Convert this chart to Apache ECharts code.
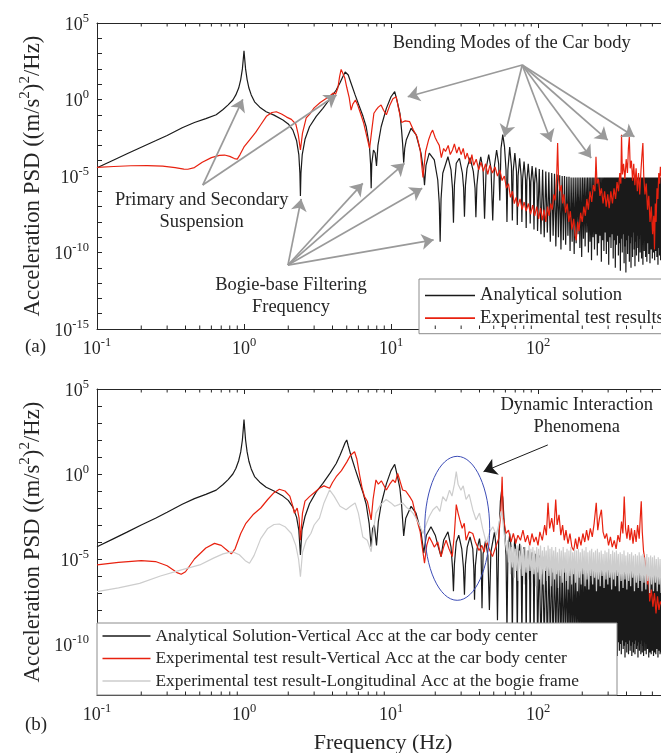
<!DOCTYPE html>
<html><head><meta charset="utf-8">
<script src="https://cdn.jsdelivr.net/npm/echarts@6/dist/echarts.min.js"></script>
<style>html,body{margin:0;padding:0;background:#fff}#c{width:661px;height:753px}</style>
</head><body><div id="c"></div><script>
// ---------- DATA (frequency in Hz, PSD given as log10 of (m/s^2)^2/Hz) ----------
const aAnalytical = [[0.1,-4.46],[0.13,-3.95],[0.16,-3.55],[0.2,-3.12],[0.25,-2.7],[0.3,-2.35],[0.38,-1.85],[0.46,-1.5],[0.55,-1.25],[0.647,-1.0],[0.72,-0.65],[0.78,-0.35],[0.84,-0.03],[0.88,0.3],[0.92,0.75],[0.95,1.3],[0.975,2.0],[0.99,2.7],[1.0,3.19],[1.01,2.7],[1.025,2.0],[1.05,1.3],[1.08,0.75],[1.12,0.3],[1.18,-0.15],[1.28,-0.5],[1.415,-0.8],[1.6,-1.02],[1.84,-1.34],[2.0,-1.6],[2.15,-2.0],[2.28,-2.7],[2.36,-3.6],[2.4,-4.8],[2.42,-6.3],[2.44,-4.8],[2.49,-3.6],[2.6,-2.6],[2.79,-1.78],[3.1,-1.1],[3.44,-0.58],[3.85,0.05],[4.24,0.62],[4.5,1.1],[4.7,1.49],[4.88,1.8],[5.0,1.88],[5.12,1.6],[5.35,1.06],[5.7,0.3],[6.1,-0.47],[6.45,-1.1],[6.78,-1.78],[7.14,-3.08],[7.26,-4.2],[7.33,-5.8],[7.4,-4.2],[7.6,-3.3],[7.8,-3.5],[7.97,-4.35],[8.15,-3.0],[8.57,-1.78],[9.3,-0.58],[10.0,0.18],[10.6,0.51],[11.1,-0.25],[11.5,-0.9],[11.8,-2.0],[12.0,-2.9],[12.2,-4.13],[12.4,-3.2],[12.7,-2.65],[13.7,-1.88],[14.8,-2.3],[16.0,-3.5],[16.6,-4.6],[16.9,-5.6],[17.3,-4.3],[18.2,-3.5],[19.7,-3.95],[20.8,-5.26],[21.3,-6.8],[21.6,-9.3],[21.9,-6.5],[22.5,-4.82],[24.4,-3.74],[25.6,-4.6],[26.2,-5.8],[26.6,-8.05],[27.0,-5.6],[27.8,-4.17],[29.2,-3.84],[30.6,-4.82],[31.2,-5.8],[31.6,-7.66],[32.1,-5.6],[32.9,-4.5],[34.5,-3.8],[36.3,-4.7],[37.3,-5.8],[37.8,-7.7],[38.4,-5.6],[39.4,-4.5],[40.8,-3.75],[42.3,-4.6],[43.3,-7.8],[44.4,-4.5],[46.2,-3.6],[47.9,-4.5],[49.2,-7.9],[50.6,-4.3],[52.3,-3.3],[54.0,-4.2],[55.0,-6.6],[56.0,-3.2],[57.6,-2.3],[59.2,-3.1],[60.6,-4.6],[61.5,-8.0],[62.4,-4.6],[64.2,-3.1],[66.0,-4.4],[66.9,-7.9],[67.8,-4.7],[69.6,-3.5],[71.4,-4.7],[72.3,-8.2],[73.2,-5.0],[75.0,-3.85],[76.8,-5.0],[77.7,-8.0],[78.6,-5.2],[80.4,-4.05],[82.2,-5.2],[83.1,-8.4],[84.0,-5.3],[85.8,-4.2],[87.6,-5.3],[88.5,-8.1],[89.4,-5.4],[91.2,-4.35],[93.0,-5.4],[93.9,-8.5],[94.8,-5.5],[96.6,-4.45],[98.4,-5.5],[99.3,-8.6],
[102,-4.55],[104.75,-8.8],[107.5,-4.6],[110.25,-9.0],[113,-4.7],[115.75,-8.7],[118.5,-4.75],[121.25,-9.3],[124,-4.8],[126.75,-8.9],[129.5,-4.85],[132.25,-9.6],[135,-4.9],[137.75,-9.0],[140.5,-4.95],[143.25,-9.8],
[146,-5.0],[148.75,-9.2],[151.5,-5.0],[154.25,-9.5],[157,-5.05],[159.75,-8.9],[162.5,-5.05],[165.25,-9.9],[168,-5.1],[170.75,-9.3],[173.5,-5.1],[176.25,-10.1],[179,-5.1],[181.75,-9.4],[184.5,-5.1],[187.25,-8.8],
[190,-5.1],[192.75,-9.7],[195.5,-5.1],[198.25,-10.3],[201,-5.1],[203.75,-9.1],[206.5,-5.1],[209.25,-9.6],[212,-5.1],[214.75,-8.7],[217.5,-5.1],[220.25,-10.0],[223,-5.1],[225.75,-9.3],[228.5,-5.1],[231.25,-10.5],
[234,-5.1],[236.75,-9.0],[239.5,-5.1],[242.25,-9.8],[245,-5.1],[247.75,-8.8],[250.5,-5.1],[253.25,-10.2],[256,-5.1],[258.75,-9.4],[261.5,-5.1],[264.25,-8.9],[267,-5.1],[269.75,-10.6],[272.5,-5.1],[275.25,-9.2],
[278,-5.1],[280.75,-9.9],[283.5,-5.1],[286.25,-8.7],[289,-5.1],[291.75,-10.1],[294.5,-5.1],[297.25,-9.3],[300,-5.1],[302.75,-10.8],[305.5,-5.1],[308.25,-9.0],[311,-5.1],[313.75,-9.7],[316.5,-5.1],[319.25,-8.8],
[322,-5.1],[324.75,-10.4],[327.5,-5.1],[330.25,-9.2],[333,-5.1],[335.75,-11.0],[338.5,-5.1],[341.25,-9.5],[344,-5.1],[346.75,-8.9],[349.5,-5.1],[352.25,-10.2],[355,-5.1],[357.75,-9.4],[360.5,-5.1],[363.25,-11.2],
[366,-5.1],[368.75,-9.1],[371.5,-5.1],[374.25,-10.0],[377,-5.1],[379.75,-8.8],[382.5,-5.1],[385.25,-10.7],[388,-5.1],[390.75,-9.6],[393.5,-5.1],[396.25,-11.3],[399,-5.1],[401.75,-9.2],[404.5,-5.1],[407.25,-10.1],
[410,-5.1],[412.75,-8.9],[415.5,-5.1],[418.25,-10.6],[421,-5.1],[423.75,-9.4],[426.5,-5.1],[429.25,-11.0],[432,-5.1],[434.75,-9.0],[437.5,-5.1],[440.25,-10.3],[443,-5.1],[445.75,-8.7],[448.5,-5.1],[451.25,-9.8],
[454,-5.1],[456.75,-10.9],[459.5,-5.1],[462.25,-9.3],[465,-5.1],[467.75,-10.2],[470.5,-5.1],[473.25,-8.9],[476,-5.1],[478.75,-9.7],[481.5,-5.1],[484.25,-10.6],[487,-5.1],[489.75,-9.1],[492.5,-5.1],[495.25,-10.0],
[498,-5.1],[500.75,-8.8],[503.5,-5.1],[506.25,-10.4],[509,-5.1],[511.75,-9.5],[514.5,-5.1],[517.25,-10.8],[520,-5.1],[522.75,-9.0],[525.5,-5.1],[528.25,-9.9],[531,-5.1],[533.75,-8.7],[536.5,-5.1],[539.25,-10.3],
[542,-5.1],[544.75,-9.2],[547.5,-5.1],[550.25,-10.6],[553,-5.1],[555.75,-9.4],[558.5,-5.1],[561.25,-8.9],[564,-5.1],[566.75,-10.1],[569.5,-5.1],[572.25,-9.6],[575,-5.1],[577.75,-10.7],[580.5,-5.1],[583.25,-9.0],
[586,-5.1],[588.75,-9.8],[591.5,-5.1],[594.25,-8.8],[597,-5.1],[599.75,-10.4],[602.5,-5.1],[605.25,-9.3],[608,-5.1],[610.75,-10.0],[613.5,-5.1],[616.25,-8.9],[619,-5.1],[621.75,-10.5],[624.5,-5.1],[627.25,-9.2],
[630,-5.1],[632.75,-9.9],[635.5,-5.1],[638.25,-8.7],[641,-5.1],[643.75,-10.3],[646.5,-5.1],[649.25,-9.4],[652,-5.1],[654.75,-10.8],[657.5,-5.1],[660.25,-9.0],[663,-5.1],[665.75,-9.7],[668.5,-5.1],[671.25,-10.2],
[674,-5.1],[676.75,-8.9],[679.5,-5.1],[682.25,-10.5],[685,-5.1],[687.75,-9.3],[690.5,-5.1],[693.25,-10.0],[696,-5.1],[698.75,-9.1],[701.5,-5.1],[704.25,-10.4],[707,-5.1],[709.75,-9.6],[712.5,-5.1],[715.25,-10.1],[718,-5.1]];

const aExperimental = [[0.1,-4.43],[0.13,-4.38],[0.17,-4.33],[0.22,-4.32],[0.28,-4.36],[0.34,-4.45],[0.39,-4.55],[0.415,-4.56],[0.46,-4.45],[0.52,-4.1],[0.6,-3.8],[0.68,-3.65],[0.737,-3.63],[0.8,-3.72],[0.86,-3.86],[0.9,-3.9],[0.94,-3.6],[1.0,-3.1],[1.1,-2.6],[1.2,-2.15],[1.3,-1.65],[1.42,-1.1],[1.55,-0.85],[1.66,-0.8],[1.8,-0.95],[1.95,-1.15],[2.1,-1.3],[2.25,-1.6],[2.34,-2.3],[2.42,-3.3],[2.5,-2.2],[2.65,-1.2],[2.8,-0.95],[3.0,-0.55],[3.3,-0.2],[3.6,0.05],[3.9,0.3],[4.05,0.42],[4.2,0.35],[4.35,0.75],[4.47,1.5],[4.58,1.97],[4.7,1.9],[4.85,1.4],[5.0,0.8],[5.2,0.1],[5.35,-0.69],[5.5,-0.3],[5.73,-0.03],[5.95,-0.4],[6.2,-0.9],[6.5,-1.5],[6.8,-2.3],[7.15,-3.2],[7.4,-2.0],[7.65,-0.9],[7.9,-0.7],[8.2,-0.5],[8.56,-0.36],[8.9,-0.7],[9.3,-1.0],[9.8,-0.4],[10.3,0.05],[10.86,0.18],[11.2,-0.5],[11.8,-1.5],[12.5,-1.4],[13.4,-1.45],[14.2,-2.0],[15.0,-2.4],[15.8,-3.3],[16.5,-5.1],[17.2,-3.4],[18.0,-2.65],[18.7,-2.2],[19.2,-2.0],[20.0,-2.5],[20.6,-2.75],[21.3,-3.0],[22.0,-3.8],[22.8,-3.2],[23.5,-3.4],[24.5,-3.0],[25.3,-3.6],[26.2,-3.3],[27.0,-2.9],[28.0,-3.5],[29.0,-3.1],[30.0,-3.6],[31.0,-3.2],[32.0,-3.9],[33.0,-3.5],[34.5,-4.2],[35.5,-3.6],[36.5,-4.3],[38.0,-3.9],[39.5,-4.6],[41.0,-4.1],[42.5,-4.7],[44.0,-4.2],[45.5,-4.9],[47.0,-4.3],[49.0,-4.8],[51.0,-4.4],[53.0,-5.0],[55.0,-4.6],[57.0,-5.3],[59.0,-5.0],[61.0,-5.8],[63.0,-5.5],[65.0,-6.4],[67.0,-6.0],[69.0,-6.8],[71.0,-6.4],[73.0,-7.0],[75.5,-6.5],[78.0,-7.2],[80.5,-6.7],[83.0,-7.3],[86.0,-6.8],[89.0,-7.5],[92.0,-6.9],[95.0,-7.6],[98.0,-7.0],[101,-7.8],[104,-7.1],[107,-7.9],[110,-7.2],[113,-8.0],[116,-7.0],[119,-7.6],[122,-6.8],[125,-7.2],[128,-6.2],[131,-6.6],[134,-5.0],[136,-2.84],[138,-5.2],[141,-6.0],[144,-5.6],[147,-6.8],[150,-6.2],[154,-7.4],[158,-6.8],[162,-8.0],[166,-7.3],[170,-8.5],[175,-7.8],[179,-8.9],[182,-9.2],[186,-8.0],[190,-8.6],[195,-7.4],[200,-8.0],[205,-7.0],[210,-7.6],[215,-6.5],[220,-7.2],[226,-6.0],[232,-6.7],[238,-5.6],[244,-6.0],[248,-3.75],[252,-5.5],[258,-5.2],[264,-6.3],[270,-5.8],[277,-6.8],[284,-6.0],[291,-7.0],[298,-6.2],[305,-7.1],[313,-6.0],[321,-6.8],[329,-5.8],[337,-6.5],[345,-5.4],[353,-6.0],[360,-4.8],[366,-5.5],[370,-2.3],[375,-4.9],[382,-4.2],[390,-5.2],[398,-3.9],[406,-4.8],[412,-3.2],[418,-2.45],[424,-4.5],[432,-4.0],[440,-5.3],[448,-4.2],[456,-5.6],[465,-4.5],[474,-6.0],[483,-4.8],[492,-6.2],[502,-4.6],[510,-3.6],[517,-2.85],[524,-5.0],[534,-6.2],[545,-5.5],[556,-7.2],[567,-6.3],[578,-8.0],[590,-7.0],[602,-8.8],[613,-7.6],[620,-9.8],[628,-6.8],[636,-8.0],[645,-5.8],[654,-6.5],[663,-4.8],[672,-5.5],[680,-4.4],[690,-5.0],[700,-4.6]];

const bAnalytical = [[0.1,-4.28],[0.13,-3.8],[0.16,-3.42],[0.2,-3.0],[0.25,-2.6],[0.3,-2.25],[0.38,-1.78],[0.46,-1.45],[0.55,-1.2],[0.647,-0.95],[0.72,-0.62],[0.78,-0.33],[0.84,0.0],[0.88,0.32],[0.92,0.78],[0.95,1.3],[0.975,2.0],[0.99,2.7],[1.0,3.2],[1.01,2.7],[1.025,2.0],[1.05,1.3],[1.08,0.75],[1.12,0.3],[1.18,-0.15],[1.28,-0.48],[1.415,-0.78],[1.6,-1.0],[1.84,-1.3],[2.0,-1.55],[2.15,-1.95],[2.28,-2.55],[2.36,-3.3],[2.42,-4.76],[2.48,-3.3],[2.6,-2.5],[2.79,-1.75],[3.1,-1.05],[3.44,-0.55],[3.85,0.05],[4.24,0.62],[4.5,1.1],[4.7,1.5],[4.88,1.85],[5.0,2.0],[5.12,1.65],[5.35,1.06],[5.7,0.3],[6.1,-0.47],[6.45,-1.1],[6.78,-1.78],[7.1,-2.9],[7.33,-4.28],[7.5,-3.2],[7.7,-3.0],[7.97,-4.2],[8.2,-2.8],[8.57,-1.78],[9.3,-0.58],[10.0,0.2],[10.6,0.57],[11.1,-0.2],[11.5,-0.85],[11.8,-1.8],[12.2,-3.65],[12.6,-2.6],[13.7,-1.9],[14.8,-2.3],[16.0,-3.4],[16.7,-4.65],[17.4,-3.6],[18.7,-3.1],[20.0,-3.6],[21.0,-4.3],[21.9,-4.86],[22.8,-3.9],[24.4,-3.4],[25.6,-4.3],[26.2,-5.5],[26.6,-6.9],[27.0,-5.3],[27.8,-4.0],[28.9,-3.6],[30.3,-4.4],[31.1,-5.5],[31.6,-7.1],[32.1,-5.3],[33.0,-4.3],[34.5,-3.7],[36.0,-4.4],[36.6,-5.6],[37.0,-7.4],[37.5,-5.4],[38.5,-4.4],[40.0,-3.8],[41.0,-4.6],[41.6,-7.9],[42.3,-4.7],[44.0,-3.9],[45.6,-4.8],[46.7,-8.0],[47.8,-4.6],[50.6,-3.4],[52.2,-4.5],[53.0,-8.6],[54.0,-4.0],[55.5,-1.6],[56.6,-0.95],[57.6,-1.4],[59.0,-3.0],[60.6,-4.8],[61.5,-9.3],[62.4,-4.8],[64.2,-3.5],[66.0,-4.6],[66.9,-9.5],[67.8,-4.9],[69.6,-3.8],[71.4,-5.0],[72.3,-9.6],[73.2,-5.1],[75.0,-4.1],[76.8,-5.2],[77.7,-9.7],[78.6,-5.3],[80.4,-4.3],[82.2,-5.4],[83.1,-9.8],[84.0,-5.4],[85.8,-4.5],[87.6,-5.5],[88.5,-9.9],[89.4,-5.5],[91.2,-4.6],[93.0,-5.6],[93.9,-10.0],[94.8,-5.6],[96.6,-4.7],[98.4,-5.7],[99.3,-10.1],
[102,-4.8],[104.75,-10.2],[107.5,-4.85],[110.25,-9.8],[113,-4.9],[115.75,-10.3],[118.5,-4.95],[121.25,-9.9],[124,-5.0],[126.75,-10.4],[129.5,-5.05],[132.25,-9.7],[135,-5.1],[137.75,-10.5],[140.5,-5.15],[143.25,-10.0],
[146,-5.2],[148.75,-10.6],[151.5,-5.25],[154.25,-9.8],[157,-5.3],[159.75,-10.4],[162.5,-5.3],[165.25,-10.1],[168,-5.35],[170.75,-10.7],[173.5,-5.35],[176.25,-9.9],[179,-5.4],[181.75,-10.5],[184.5,-5.4],[187.25,-10.0],
[190,-5.45],[192.75,-10.6],[195.5,-5.45],[198.25,-9.8],[201,-5.5],[203.75,-10.4],[206.5,-5.5],[209.25,-10.1],[212,-5.5],[214.75,-10.8],[217.5,-5.5],[220.25,-9.9],[223,-5.55],[225.75,-10.3],[228.5,-5.55],[231.25,-10.0],
[234,-5.55],[236.75,-10.6],[239.5,-5.6],[242.25,-9.8],[245,-5.6],[247.75,-10.4],[250.5,-5.6],[253.25,-10.1],[256,-5.6],[258.75,-10.7],[261.5,-5.6],[264.25,-9.9],[267,-5.6],[269.75,-10.5],[272.5,-5.6],[275.25,-10.0],
[278,-5.6],[280.75,-10.6],[283.5,-5.6],[286.25,-9.8],[289,-5.6],[291.75,-10.3],[294.5,-5.6],[297.25,-10.1],[300,-5.6],[302.75,-10.8],[305.5,-5.6],[308.25,-9.9],[311,-5.6],[313.75,-10.4],[316.5,-5.6],[319.25,-10.0],
[322,-5.65],[324.75,-10.6],[327.5,-5.65],[330.25,-9.8],[333,-5.65],[335.75,-10.5],[338.5,-5.65],[341.25,-10.1],[344,-5.65],[346.75,-10.7],[349.5,-5.65],[352.25,-9.9],[355,-5.65],[357.75,-10.4],[360.5,-5.65],[363.25,-10.0],
[366,-5.65],[368.75,-10.6],[371.5,-5.65],[374.25,-9.8],[377,-5.65],[379.75,-10.3],[382.5,-5.65],[385.25,-10.1],[388,-5.65],[390.75,-10.8],[393.5,-5.65],[396.25,-9.9],[399,-5.65],[401.75,-10.5],[404.5,-5.65],[407.25,-10.0],
[410,-5.7],[412.75,-10.6],[415.5,-5.7],[418.25,-9.8],[421,-5.7],[423.75,-10.4],[426.5,-5.7],[429.25,-10.1],[432,-5.7],[434.75,-10.7],[437.5,-5.7],[440.25,-9.9],[443,-5.7],[445.75,-10.5],[448.5,-5.7],[451.25,-10.0],
[454,-5.7],[456.75,-10.6],[459.5,-5.7],[462.25,-9.8],[465,-5.7],[467.75,-10.3],[470.5,-5.7],[473.25,-10.1],[476,-5.7],[478.75,-10.8],[481.5,-5.7],[484.25,-9.9],[487,-5.7],[489.75,-10.4],[492.5,-5.7],[495.25,-10.0],
[498,-5.7],[500.75,-10.6],[503.5,-5.7],[506.25,-9.8],[509,-5.7],[511.75,-10.5],[514.5,-5.7],[517.25,-10.1],[520,-5.7],[522.75,-10.7],[525.5,-5.7],[528.25,-9.9],[531,-5.7],[533.75,-10.4],[536.5,-5.7],[539.25,-10.0],
[542,-5.7],[544.75,-10.6],[547.5,-5.7],[550.25,-9.8],[553,-5.7],[555.75,-10.3],[558.5,-5.7],[561.25,-10.1],[564,-5.7],[566.75,-10.8],[569.5,-5.7],[572.25,-9.9],[575,-5.7],[577.75,-10.5],[580.5,-5.7],[583.25,-10.0],
[586,-5.7],[588.75,-10.6],[591.5,-5.7],[594.25,-9.8],[597,-5.7],[599.75,-10.4],[602.5,-5.7],[605.25,-10.1],[608,-5.7],[610.75,-10.7],[613.5,-5.7],[616.25,-9.9],[619,-5.7],[621.75,-10.5],[624.5,-5.7],[627.25,-10.0],
[630,-5.7],[632.75,-10.6],[635.5,-5.7],[638.25,-9.8],[641,-5.7],[643.75,-10.3],[646.5,-5.7],[649.25,-10.1],[652,-5.7],[654.75,-10.8],[657.5,-5.7],[660.25,-9.9],[663,-5.7],[665.75,-10.4],[668.5,-5.7],[671.25,-10.0],
[674,-5.7],[676.75,-10.6],[679.5,-5.7],[682.25,-9.8],[685,-5.7],[687.75,-10.5],[690.5,-5.7],[693.25,-10.1],[696,-5.7],[698.75,-10.7],[701.5,-5.7],[704.25,-9.9],[707,-5.7],[709.75,-10.4],[712.5,-5.7],[715.25,-10.0],[718,-5.7]];

const bVertical = [[0.1,-5.35],[0.14,-5.2],[0.2,-5.1],[0.25,-5.15],[0.3,-5.4],[0.35,-5.8],[0.374,-5.9],[0.4,-5.75],[0.46,-5.0],[0.55,-4.35],[0.63,-4.08],[0.7,-4.2],[0.77,-4.5],[0.82,-4.7],[0.87,-4.4],[0.95,-3.5],[1.03,-2.9],[1.15,-2.4],[1.3,-2.0],[1.45,-1.5],[1.6,-1.1],[1.74,-0.9],[1.9,-1.0],[2.05,-1.3],[2.15,-1.9],[2.2,-2.3],[2.3,-2.0],[2.37,-2.6],[2.42,-3.9],[2.5,-2.3],[2.6,-1.6],[2.79,-1.33],[3.0,-1.1],[3.26,-0.84],[3.5,-0.7],[3.82,-0.84],[4.0,-0.5],[4.24,-0.16],[4.6,0.2],[5.0,0.7],[5.3,1.1],[5.65,1.31],[5.85,0.9],[6.1,0.0],[6.35,-0.8],[6.6,-1.33],[6.9,-1.6],[7.1,-2.1],[7.33,-2.7],[7.55,-1.5],[7.9,-0.35],[8.2,-0.6],[8.6,-0.4],[9.3,-0.94],[9.8,-0.6],[10.3,-0.35],[10.7,-0.5],[11.1,0.03],[11.5,-0.4],[12.0,-0.94],[12.6,-1.0],[13.4,-1.33],[14.0,-1.6],[14.8,-2.5],[15.8,-3.4],[16.9,-5.25],[17.5,-4.2],[18.2,-3.7],[19.0,-4.0],[19.7,-4.3],[20.8,-4.0],[21.9,-4.86],[22.8,-4.3],[23.7,-3.9],[24.8,-4.4],[26.1,-4.86],[27.0,-3.5],[27.8,-1.8],[28.6,-2.3],[29.4,-2.7],[30.5,-3.2],[31.5,-2.9],[32.4,-3.9],[34.0,-3.4],[36.0,-3.5],[37.5,-4.0],[39.7,-4.5],[41.5,-4.2],[43.0,-4.6],[44.5,-3.9],[46.5,-4.4],[49,-4.86],[51.5,-4.3],[54,-3.8],[56,-2.0],[57,-0.16],[58,-2.5],[60.6,-3.5],[63,-3.3],[65.5,-4.0],[68,-3.5],[70.5,-4.1],[73,-3.6],[76,-3.9],[79,-3.3],[82,-4.0],[85,-3.6],[88,-4.2],[91,-3.5],[94,-4.0],[97,-3.7],[100,-4.2],[103,-3.4],[107,-3.9],[111,-3.0],[114,-3.6],[117,-1.7],[120,-3.2],[124,-2.6],[128,-3.4],[132,-1.5],[135,-3.0],[139,-2.4],[143,-3.6],[147,-3.0],[151,-3.9],[155,-3.3],[160,-4.1],[165,-3.5],[170,-4.3],[175,-4.5],[180,-3.8],[185,-4.4],[190,-3.7],[196,-4.2],[202,-3.5],[208,-4.0],[214,-3.3],[220,-3.9],[227,-3.2],[234,-3.7],[241,-2.9],[249,-1.7],[255,-3.3],[262,-2.6],[270,-2.1],[277,-3.4],[285,-3.8],[293,-3.5],[302,-4.2],[311,-3.7],[320,-4.3],[330,-3.9],[340,-4.4],[350,-3.6],[360,-4.0],[370,-2.8],[378,-3.5],[386,-1.33],[394,-3.2],[403,-3.8],[412,-3.0],[422,-3.9],[432,-3.2],[443,-4.1],[454,-3.3],[465,-4.0],[476,-3.0],[488,-3.8],[496,-2.6],[504,-1.6],[512,-3.4],[522,-4.5],[532,-5.0],[542,-5.5],[555,-6.5],[565,-5.8],[575,-7.5],[590,-6.8],[605,-7.8],[620,-7.0],[635,-8.2],[650,-7.2],[665,-8.0],[680,-7.5],[700,-7.8]];

const bLongitudinal = [[0.1,-6.92],[0.14,-6.7],[0.195,-6.43],[0.27,-6.0],[0.37,-5.65],[0.5,-5.35],[0.62,-4.95],[0.72,-4.7],[0.835,-4.57],[0.93,-4.75],[1.02,-5.1],[1.09,-5.25],[1.17,-4.8],[1.3,-3.8],[1.45,-3.2],[1.6,-2.97],[1.74,-2.94],[1.9,-3.1],[2.1,-3.5],[2.25,-4.2],[2.35,-5.0],[2.42,-6.04],[2.5,-4.6],[2.65,-3.9],[2.85,-3.5],[3.0,-3.0],[3.26,-2.6],[3.5,-1.7],[3.82,-0.94],[4.1,-1.3],[4.5,-1.9],[4.95,-2.1],[5.3,-1.9],[5.7,-1.7],[6.0,-2.3],[6.43,-3.7],[6.9,-3.9],[7.33,-4.57],[7.6,-3.3],[7.9,-2.3],[8.5,-1.8],[9.27,-1.5],[10.0,-1.7],[10.6,-1.9],[11.3,-1.8],[12.0,-1.7],[12.7,-1.95],[13.4,-2.1],[14.1,-2.3],[14.8,-2.6],[15.6,-3.0],[16.5,-3.5],[17.3,-3.0],[18.2,-2.5],[19.3,-2.1],[20.5,-1.9],[21.5,-2.2],[22.5,-1.33],[23.7,-1.6],[25.0,-0.95],[26.0,-1.3],[27.0,-0.6],[27.8,0.14],[28.6,-0.6],[29.9,-0.95],[31.0,-0.7],[32.4,-1.5],[34.0,-1.2],[36.0,-2.1],[37.9,-2.7],[40.0,-2.3],[42.0,-3.2],[44.5,-4.06],[47.0,-3.4],[49.3,-3.1],[52,-3.6],[54,-3.0],[56,-2.2],[57.5,-2.7],[59,-3.6],
[61,-4.5],[62,-3.9],[63,-5.2],[64,-4.0],[65,-5.9],[66,-4.3],[67,-5.5],[68,-4.1],[69,-6.1],[70,-4.4],[71,-5.7],[72.2,-4.2],[73.4,-6.3],[74.6,-4.5],[75.8,-5.6],[77,-4.2],[78.2,-6.0],[79.4,-4.4],[80.6,-6.5],[81.8,-4.3],[83,-5.8],[84.3,-4.5],[85.6,-6.2],[86.9,-4.2],[88.2,-5.7],[89.5,-4.4],[90.9,-6.4],[92.3,-4.3],[93.7,-5.9],[95.1,-4.5],[96.5,-6.6],[98,-4.3],[99.5,-5.8],[101,-4.4],[102.5,-6.2],[104,-4.2],[105.6,-5.9],[107.2,-4.5],[108.8,-6.5],[110.4,-4.3],[112,-5.7],[113.7,-4.5],[115.4,-6.3],[117.1,-4.2],[118.8,-6.0],[120.6,-4.4],[122.4,-6.6],[124.2,-4.3],[126,-5.8],[127.9,-4.5],[129.8,-6.2],[131.7,-4.3],[133.7,-5.9],[135.7,-4.6],[137.7,-6.7],[139.8,-4.4],[141.9,-6.0],[144,-4.5],[146.2,-6.4],[148.4,-4.3],[150.6,-5.8],[152.9,-4.6],[155.2,-6.3],[157.5,-4.4],[159.9,-6.8],[162.3,-4.5],[164.7,-6.0],[167.2,-4.3],[169.7,-6.5],[172.2,-4.6],[174.8,-5.9],[177.4,-4.4],[180.1,-6.4],[182.8,-4.5],[185.5,-6.9],[188.3,-4.4],[191.1,-6.1],[194,-4.6],[196.9,-6.5],[199.9,-4.4],[202.9,-5.9],[205.9,-4.5],[209,-6.6],[212.1,-4.3],[215.3,-6.2],[218.5,-4.6],[221.8,-6.8],[225.1,-4.5],[228.5,-6.0],[231.9,-4.4],[235.4,-6.5],[238.9,-4.6],[242.5,-6.1],[246.1,-4.5],[249.8,-6.9],[253.5,-4.4],[257.3,-6.2],[261.2,-4.6],[265.1,-6.6],[269.1,-4.5],[273.1,-6.0],[277.2,-4.7],[281.4,-6.7],[285.6,-4.5],[289.9,-6.2],[294.2,-4.6],[298.6,-6.5],[303.1,-4.4],[307.6,-6.1],[312.2,-4.7],[316.9,-6.8],[321.7,-4.5],[326.5,-6.2],[331.4,-4.6],[336.4,-6.6],[341.4,-4.5],[346.5,-6.0],[351.7,-4.7],[357,-6.9],[362.4,-4.6],[367.8,-6.3],[373.3,-4.7],[378.9,-6.7],[384.6,-4.5],[390.4,-6.2],[396.3,-4.8],[402.2,-6.8],[408.2,-4.6],[414.3,-6.3],[420.5,-4.7],[426.8,-6.6],[433.2,-4.6],[439.7,-6.1],[446.3,-4.8],[453,-6.9],[459.8,-4.7],[466.7,-6.4],[473.7,-4.8],[480.8,-6.7],[488,-4.6],[495.3,-6.3],[502.7,-4.8],[510.2,-6.9],[517.9,-4.7],[525.7,-6.4],[533.6,-4.9],[541.6,-6.8],[549.7,-4.7],[557.9,-6.3],[566.3,-4.9],[574.8,-7.0],[583.4,-4.8],[592.2,-6.5],[601.1,-4.9],[610.1,-6.9],[619.2,-4.8],[628.5,-6.4],[637.9,-5.0],[647.5,-6.9],[657.2,-4.9],[667.1,-6.5],[677.1,-5.0],[687.3,-7.0],[697.6,-4.9],[708,-6.6]];

// axis ticks / labels
const xMin = 0.1, xMax = 1000;
const xMajorTicks = [0.1, 1, 10, 100, 1000];
const xLabelValues = [0.1, 1, 10, 100];
const minorMultipliers = [2,3,4,5,6,7,8,9];
const aYMinExp = -15, aYMaxExp = 5;
const bYMinExp = -13, bYMaxExp = 5;
const yLabelExpsA = [-15, -10, -5, 0, 5];
const yLabelExpsB = [-10, -5, 0, 5];

// annotation anchors: [freq, log10 PSD]
const bendingFrom = [78.1, 2.255];
const bendingTo = [[13.0, 0.18], [59.2, -2.43], [123, -2.76], [230, -3.82], [298, -2.65], [453, -2.43]];
const suspensionFrom = [0.524, -5.59];
const suspensionTo = [[0.981, 0.01], [4.26, 0.29]];
const bogieFrom = [1.99, -10.82];
const bogieTo = [[2.45, -6.5], [6.43, -5.48], [12.36, -4.17], [16.3, -5.8], [19.5, -9.18]];
const dynamicFrom = [116.6, 1.71];
const dynamicTo = [42.6, 0.14];
const dynamicEllipse = [16.96, 46.9, -7.43, 1.04]; // fMin, fMax, logMin, logMax

// ---------- helpers ----------
const FONT = '"Liberation Serif", "Times New Roman", serif';
const TXT = '#262626';
const toXY = arr => arr.map(p => [p[0], Math.pow(10, p[1])]);
const pw = e => Math.pow(10, e);
const range = (a, b) => { const r = []; for (let i = a; i <= b; i++) r.push(i); return r; };
const minorVals = [];
[0.1, 1, 10, 100].forEach(d => minorMultipliers.forEach(m => { const v = d * m; if (v < xMax) minorVals.push([v, 1]); }));

const supFmt = v => { const e = Math.round(Math.log10(v)); return '{b|10}{s|' + e + '}'; };
const tickRich = {
  b: { fontFamily: FONT, fontSize: 18, color: TXT, lineHeight: 22, verticalAlign: 'bottom' },
  s: { fontFamily: FONT, fontSize: 12.5, color: TXT, lineHeight: 13, verticalAlign: 'top' }
};

function xAxesFor(grid) {
  const common = {
    type: 'log', logBase: 10, gridIndex: grid, min: xMin, max: xMax,
    axisLine: { show: true, onZero: false, lineStyle: { color: TXT, width: 1 } },
    axisTick: { show: true, inside: true, length: 5, customValues: xMajorTicks, lineStyle: { color: TXT, width: 1 } },
    splitLine: { show: false }, minorTick: { show: false }
  };
  return [
    Object.assign({}, common, { position: 'bottom',
      axisLabel: { show: true, customValues: xLabelValues, formatter: supFmt, rich: tickRich, margin: 7 } }),
    Object.assign({}, common, { position: 'top', axisLabel: { show: false } })
  ];
}
function yAxisFor(grid, minE, maxE, labelExps) {
  return {
    type: 'log', logBase: 10, gridIndex: grid, min: pw(minE), max: pw(maxE), position: 'left',
    axisLine: { show: true, onZero: false, lineStyle: { color: TXT, width: 1 } },
    axisTick: { show: true, inside: true, length: 5, customValues: range(minE, maxE).map(pw), lineStyle: { color: TXT, width: 1 } },
    axisLabel: { show: true, customValues: labelExps.map(pw), formatter: supFmt, rich: tickRich, margin: 8 },
    splitLine: { show: false }, minorTick: { show: false },
    name: '{t|Acceleration PSD ((m/s}{u|2}{t|)}{u|2}{t|/Hz)}',
    nameLocation: 'middle', nameGap: 52, nameRotate: 90, nameMoveOverlap: false,
    nameTextStyle: { rich: {
      t: { fontFamily: FONT, fontSize: 22.8, color: TXT, lineHeight: 27, verticalAlign: 'bottom' },
      u: { fontFamily: FONT, fontSize: 15, color: TXT, lineHeight: 15, verticalAlign: 'top' }
    } }
  };
}
function minorTickItem(params, api) {
  const cs = params.coordSys;
  const x = api.coord([api.value(0), api.value(1)])[0];
  const L = 3.5, yb = cs.y + cs.height, yt = cs.y;
  return { type: 'group', children: [
    { type: 'line', shape: { x1: x, y1: yb, x2: x, y2: yb - L }, style: { stroke: TXT, lineWidth: 1 } },
    { type: 'line', shape: { x1: x, y1: yt, x2: x, y2: yt + L }, style: { stroke: TXT, lineWidth: 1 } }
  ] };
}
function ellipseItem(params, api) {
  const p1 = api.coord([api.value(0), api.value(3)]);
  const p2 = api.coord([api.value(1), api.value(2)]);
  return { type: 'ellipse', shape: { cx: (p1[0] + p2[0]) / 2, cy: (p1[1] + p2[1]) / 2,
    rx: Math.abs(p2[0] - p1[0]) / 2, ry: Math.abs(p2[1] - p1[1]) / 2 },
    style: { fill: 'none', stroke: '#3d4db7', lineWidth: 1 } };
}
const arrowPairs = (from, tos) => tos.map(t => [{ coord: [from[0], pw(from[1])] }, { coord: [t[0], pw(t[1])] }]);
const grayArrows = (pairs) => ({
  silent: true, animation: false, symbol: ['none', 'arrow'], symbolSize: 12,
  label: { show: false }, emphasis: { disabled: true },
  itemStyle: { color: '#9a9a9a' },
  lineStyle: { color: '#9a9a9a', width: 1.7, type: 'solid' }, data: pairs
});
const lineSeries = (name, data, color, xi, yi, z, extra) => Object.assign({
  name, type: 'line', data: toXY(data), xAxisIndex: xi, yAxisIndex: yi, z,
  symbol: 'none', showSymbol: false, smooth: false, animation: false, silent: true,
  lineStyle: { color, width: 1.2 }, itemStyle: { color }, emphasis: { disabled: true }
}, extra || {});
const LEGEND_LINE = 'path://M0,0H100V3.4H0Z';

const chart = echarts.init(document.getElementById('c'), null, { renderer: 'canvas' });
chart.setOption({
  animation: false,
  backgroundColor: '#fff',
  grid: [
    { left: 97, top: 23, width: 588, height: 306, containLabel: false, outerBoundsMode: 'none' },
    { left: 97, top: 389, width: 588, height: 306, containLabel: false, outerBoundsMode: 'none' }
  ],
  xAxis: [...xAxesFor(0), ...xAxesFor(1)],
  yAxis: [yAxisFor(0, aYMinExp, aYMaxExp, yLabelExpsA), yAxisFor(1, bYMinExp, bYMaxExp, yLabelExpsB)],
  legend: [
    { data: ['Analytical solution', 'Experimental test results'], orient: 'vertical', left: 419, top: 279,
      icon: LEGEND_LINE, itemWidth: 50, itemHeight: 18, itemGap: 3.7, padding: [7, 30, 6, 6], selectedMode: false,
      backgroundColor: '#fff', borderColor: '#8c8c8c', borderWidth: 1,
      textStyle: { fontFamily: FONT, fontSize: 18.6, color: TXT, lineHeight: 18 } },
    { data: ['Analytical Solution-Vertical Acc at the car body center', 'Experimental test result-Vertical Acc at the car body center', 'Experimental test result-Longitudinal Acc at the bogie frame'],
      orient: 'vertical', left: 97, top: 623, icon: LEGEND_LINE, itemWidth: 48, itemHeight: 18, itemGap: 4.5, padding: [4, 38, 5, 5.5], selectedMode: false,
      backgroundColor: '#fff', borderColor: '#8c8c8c', borderWidth: 1,
      textStyle: { fontFamily: FONT, fontSize: 17.4, color: TXT, lineHeight: 18 } }
  ],
  series: [
    lineSeries('Analytical solution', aAnalytical, '#1a1a1a', 0, 0, 2),
    lineSeries('Experimental test results', aExperimental, '#e8210f', 0, 0, 3, {
      markLine: grayArrows([...arrowPairs(bendingFrom, bendingTo), ...arrowPairs(suspensionFrom, suspensionTo), ...arrowPairs(bogieFrom, bogieTo)])
    }),
    { type: 'custom', xAxisIndex: 0, yAxisIndex: 0, data: minorVals, renderItem: minorTickItem, silent: true, z: 5, encode: { x: 0, y: 1 } },

    lineSeries('Analytical Solution-Vertical Acc at the car body center', bAnalytical, '#1a1a1a', 2, 1, 2),
    lineSeries('Experimental test result-Vertical Acc at the car body center', bVertical, '#e8210f', 2, 1, 3),
    lineSeries('Experimental test result-Longitudinal Acc at the bogie frame', bLongitudinal, '#cdcdcd', 2, 1, 4, {
      markLine: { silent: true, animation: false, symbol: ['none', 'arrow'], symbolSize: 13,
        label: { show: false }, emphasis: { disabled: true },
        itemStyle: { color: '#1a1a1a' },
        lineStyle: { color: '#1a1a1a', width: 1, type: 'solid' },
        data: [[{ coord: [dynamicFrom[0], pw(dynamicFrom[1])] }, { coord: [dynamicTo[0], pw(dynamicTo[1])] }]] }
    }),
    { type: 'custom', xAxisIndex: 2, yAxisIndex: 1, data: minorVals, renderItem: minorTickItem, silent: true, z: 5, encode: { x: 0, y: 1 } },
    { type: 'custom', xAxisIndex: 2, yAxisIndex: 1, z: 6, silent: true,
      data: [[dynamicEllipse[0], dynamicEllipse[1], pw(dynamicEllipse[2]), pw(dynamicEllipse[3])]],
      encode: { x: [0, 1], y: [2, 3] }, renderItem: ellipseItem }
  ],
  graphic: [
    { type: 'text', x: 511.7, y: 43.5, z: 100, style: { text: 'Bending Modes of the Car body', font: '18.5px ' + FONT, fill: TXT, align: 'center', verticalAlign: 'middle' } },
    { type: 'text', x: 201.7, y: 210.8, z: 100, style: { text: 'Primary and Secondary\nSuspension', font: '18.5px ' + FONT, fill: TXT, align: 'center', verticalAlign: 'middle', lineHeight: 21.7 } },
    { type: 'text', x: 291, y: 295.9, z: 100, style: { text: 'Bogie-base Filtering\nFrequency', font: '18.5px ' + FONT, fill: TXT, align: 'center', verticalAlign: 'middle', lineHeight: 21.7 } },
    { type: 'text', x: 576.7, y: 415.9, z: 100, style: { text: 'Dynamic Interaction\nPhenomena', font: '18.5px ' + FONT, fill: TXT, align: 'center', verticalAlign: 'middle', lineHeight: 21.7 } },
    { type: 'text', x: 25, y: 347, z: 100, style: { text: '(a)', font: '19px ' + FONT, fill: TXT, align: 'left', verticalAlign: 'middle' } },
    { type: 'text', x: 25, y: 725, z: 100, style: { text: '(b)', font: '19px ' + FONT, fill: TXT, align: 'left', verticalAlign: 'middle' } },
    { type: 'text', x: 383, y: 743, z: 100, style: { text: 'Frequency (Hz)', font: '22px ' + FONT, fill: TXT, align: 'center', verticalAlign: 'middle' } }
  ]
});
</script></body></html>
